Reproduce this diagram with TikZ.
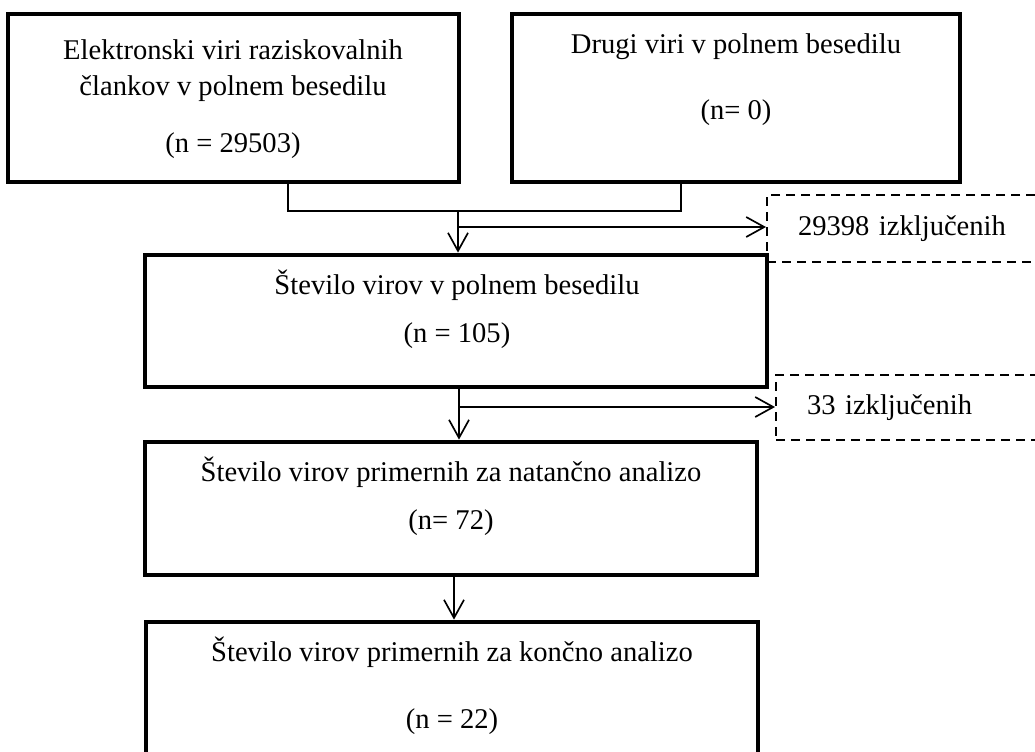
\documentclass[tikz,border=0pt]{standalone}
\usepackage{fontspec}
\setmainfont{Liberation Serif}
\usetikzlibrary{arrows.meta, positioning}
\tikzset{
  every picture/.style={font=\fontsize{12}{15.1}\selectfont, >={Straight Barb[length=7.6pt, width=8.4pt]}},
  okvir/.style 2 args={draw, line width=2pt, minimum width=#1*0.42pt, minimum height=#2*0.42pt, inner sep=0pt},
  izklj/.style 2 args={draw, line width=0.85pt, dash pattern=on 3.8pt off 2.5pt, minimum width=#1*0.42pt,
              minimum height=#2*0.42pt, text width=(#1-62)*0.42pt, inner xsep=13pt, inner ysep=0pt, align=left},
  besedilo/.style={align=center, inner sep=0pt},
  povezava/.style={line width=0.7pt},
  puscica/.style={->, line width=0.7pt},
}
\begin{document}
\begin{tikzpicture}[x=0.42pt, y=-0.42pt]
  \path[use as bounding box, clip] (0,0) rectangle (1035,751);
  \node[okvir={451}{168}] (vir1) at (233.5,98) {};
  \node[okvir={448}{168}] (vir2) at (736,98) {};
  \node[okvir={622}{132}] (stevilo) at (456,321) {};
  \node[okvir={612}{133}] (natancno) at (451,508.5) {};
  \node[okvir={612}{150}] (koncno) at (452,697) {};
  \node[izklj={333}{67}] (izkl1) at (933.5,228.5) {29398 izključenih};
  \node[izklj={324}{65}] (izkl2) at (938,407.5) {33 izključenih};

  \node[besedilo] (vir1t) at (233,99) {Elektronski viri raziskovalnih\\člankov v polnem besedilu\\[8.8pt](n = 29503)};
  \node[besedilo] (vir2t) at (736,80) {Drugi viri v polnem besedilu\\[12.6pt](n= 0)};
  \node[besedilo] (stevilot) at (457,309) {Število virov v polnem besedilu\\[5.1pt](n = 105)};
  \node[besedilo] (natancnot) at (451,496) {Število virov primernih za natančno analizo\\[5.1pt](n= 72)};
  \node[besedilo] (koncnot) at (452,685.5) {Število virov primernih za končno analizo\\[13pt](n = 22)};

  \coordinate (levo) at (288,211); \coordinate (desno) at (681,211);
  \coordinate (zdruzi) at (458,211); \coordinate (odcep1) at (458,227);
  \coordinate (os2) at (459,400); \coordinate (odcep2) at (459,407);
  \coordinate (os3) at (454,600);
  \draw[povezava] (levo |- vir1.south) -- (levo) -- (desno) -- (desno |- vir2.south);
  \draw[puscica] (zdruzi) -- (zdruzi |- stevilo.north);
  \draw[puscica] (odcep1) -- (odcep1 -| izkl1.west);
  \draw[puscica] (os2 |- stevilo.south) -- (os2 |- natancno.north);
  \draw[puscica] (odcep2) -- (odcep2 -| izkl2.west);
  \draw[puscica] (os3 |- natancno.south) -- (os3 |- koncno.north);
\end{tikzpicture}
\end{document}
